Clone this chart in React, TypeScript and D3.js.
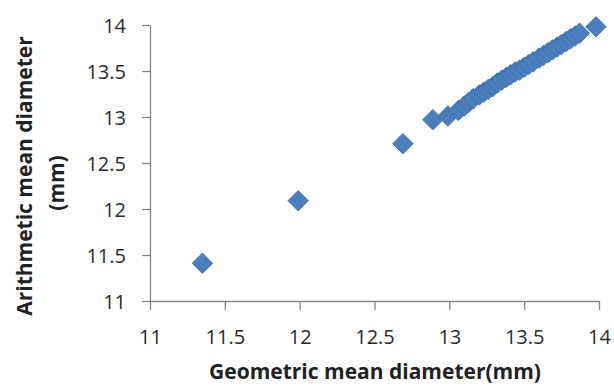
import React, { useEffect, useRef } from 'react';
import * as d3 from 'd3';

// geometric mean diameter (x) vs arithmetic mean diameter (y), mm
const geoMean = [
  11.35, 11.99, 12.69, 12.89, 12.99, 13.06, 13.1, 13.13, 13.16, 13.2, 13.23, 13.26,
  13.29, 13.32, 13.35, 13.38, 13.41, 13.44, 13.47, 13.5, 13.53, 13.56, 13.6, 13.63,
  13.66, 13.69, 13.72, 13.75, 13.78, 13.81, 13.84, 13.87, 13.98,
];
const ariMean = [
  11.41, 12.09, 12.71, 12.97, 13.01, 13.07, 13.12, 13.16, 13.2, 13.24, 13.27, 13.3,
  13.33, 13.37, 13.4, 13.43, 13.46, 13.49, 13.51, 13.54, 13.57, 13.6, 13.64, 13.67,
  13.7, 13.73, 13.76, 13.79, 13.82, 13.85, 13.88, 13.91, 13.98,
];
const xTicks = [11, 11.5, 12, 12.5, 13, 13.5, 14];
const yTicks = [11, 11.5, 12, 12.5, 13, 13.5, 14];

const W = 614;
const H = 388;
const margin = { top: 25, right: 15, bottom: 87, left: 150 };

export default function App() {
  const svgRef = useRef<SVGSVGElement>(null);

  useEffect(() => {
    if (!svgRef.current) return;
    const svg = d3.select(svgRef.current);
    svg.selectAll('*').remove();

    const x = d3.scaleLinear().domain([11, 14]).range([margin.left, W - margin.right]);
    const y = d3.scaleLinear().domain([11, 14]).range([H - margin.bottom, margin.top]);
    const axisColor = '#868686';
    const font = 'Open Sans, Noto Sans, sans-serif';

    const xAxis = svg.append('g')
      .attr('transform', `translate(0,${y(11)})`)
      .call(d3.axisBottom(x).tickValues(xTicks).tickSize(9).tickSizeOuter(0).tickFormat(d => String(d)));
    const yAxis = svg.append('g')
      .attr('transform', `translate(${x(11)},0)`)
      .call(d3.axisLeft(y).tickValues(yTicks).tickSize(8).tickSizeOuter(0).tickFormat(d => String(d)));

    [xAxis, yAxis].forEach(a => {
      a.select('.domain').attr('stroke', axisColor).attr('stroke-width', 1.3);
      a.selectAll('.tick line').attr('stroke', axisColor).attr('stroke-width', 1.3);
      a.selectAll('.tick text')
        .attr('fill', '#2a2a2a')
        .style('font-family', font)
        .style('font-size', '20px');
    });
    xAxis.selectAll('.tick text').attr('y', 43).attr('dy', 0);
    yAxis.selectAll('.tick text').attr('x', -24).attr('dy', '0.35em');

    const diamond = d3.symbol().type(d3.symbolSquare).size(210);
    const pts = geoMean.map((g, i) => [g, ariMean[i]] as [number, number]);
    svg.append('g')
      .selectAll('path')
      .data(pts)
      .enter()
      .append('path')
      .attr('d', diamond)
      .attr('transform', d => `translate(${x(d[0])},${y(d[1])}) rotate(45)`)
      .attr('fill', '#4a7ebf')
      .attr('stroke', '#3d6faa')
      .attr('stroke-width', 0.8);

    svg.append('text')
      .attr('x', 375)
      .attr('y', 379)
      .attr('text-anchor', 'middle')
      .style('font-family', font)
      .style('font-size', '21px')
      .style('font-weight', 'bold')
      .attr('fill', '#222')
      .text('Geometric mean diameter(mm)');

    const yl = svg.append('text')
      .attr('transform', `translate(32,176) rotate(-90)`)
      .attr('text-anchor', 'middle')
      .style('font-family', font)
      .style('font-size', '21px')
      .style('font-weight', 'bold')
      .attr('fill', '#222');
    yl.append('tspan').attr('x', 0).attr('dy', 0).text('Arithmetic mean diameter');
    yl.append('tspan').attr('x', -7).attr('dy', '1.5em').text('(mm)');
  }, []);

  return (
    <>
      <style>{'body{margin:0;background:#fff}'}</style>
      <svg ref={svgRef} width={W} height={H} style={{ display: 'block' }} />
    </>
  );
}
